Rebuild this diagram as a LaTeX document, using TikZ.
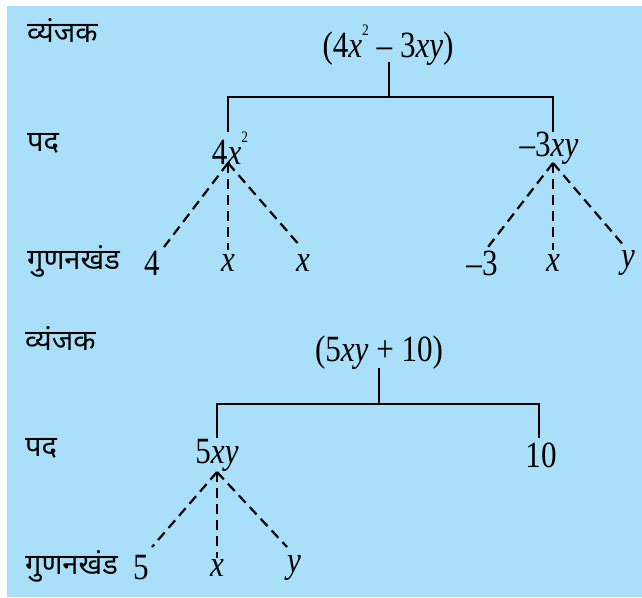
\documentclass[tikz,border=0pt]{standalone}
\usepackage{fontspec}
\setmainfont{Liberation Serif}[FakeStretch=0.84]
\newfontfamily\deva[Script=Devanagari]{Noto Sans}
\definecolor{bgblue}{HTML}{A9DFF8}
\newcommand{\sqr}{\raisebox{0.6em}{\fontsize{16}{16}\selectfont 2}}
\tikzset{
  lbl/.style={font=\fontsize{29}{32}\selectfont\deva, anchor=west, inner sep=0pt},
  term/.style={font=\fontsize{37}{40}\selectfont, inner sep=0pt},
  tree/.style={line width=2.2pt, black},
  dashline/.style={line width=2.2pt, black, dash pattern=on 10pt off 6pt}
}
\begin{document}
\begin{tikzpicture}[x=1pt,y=-1pt]
\fill[white] (0,0) rectangle (642,597);
\fill[bgblue] (7,6) rectangle (642,597);
\useasboundingbox (0,0) rectangle (642,597);

% ---------- upper tree ----------
\node[lbl] (l1) at (27,30) {व्यंजक};
\node[lbl] (l2) at (27,143) {पद};
\node[lbl] (l3) at (27,261) {गुणनखंड};

\node[term] (e1) at (388,45) {(4\textit{x}\sqr{} – 3\textit{xy})};
\node[term] (t1) at (230,148) {4\textit{x}\sqr};
\node[term] (t2) at (549,148) {–3\textit{xy}};
\node[term] (f1) at (152,263) {4};
\node[term] (f2) at (228,263) {\textit{x}};
\node[term] (f3) at (303,263) {\textit{x}};
\node[term] (f4) at (482,263) {–3};
\node[term] (f5) at (553,263) {\textit{x}};
\node[term] (f6) at (628,263) {\textit{y}};

\coordinate (e1b) at (389,62);
\coordinate (j1) at (389,97);
\coordinate (t1a) at (228,132);
\coordinate (t2a) at (553,132);
\draw[tree] (e1b) -- (j1);
\draw[tree] (t1a) |- (j1) -| (t2a);

\coordinate (p1) at (228,163);
\coordinate (p2) at (553,163);
\coordinate (f1a) at (164,247);
\coordinate (f2a) at (228,250);
\coordinate (f3a) at (301,247);
\coordinate (f4a) at (488,247);
\coordinate (f5a) at (553,250);
\coordinate (f6a) at (625,247);
\draw[dashline] (p1) -- (f1a);
\draw[dashline] (p1) -- (f2a);
\draw[dashline] (p1) -- (f3a);
\draw[dashline] (p2) -- (f4a);
\draw[dashline] (p2) -- (f5a);
\draw[dashline] (p2) -- (f6a);

% ---------- lower tree ----------
\node[lbl] (l4) at (25,338) {व्यंजक};
\node[lbl] (l5) at (25,448) {पद};
\node[lbl] (l6) at (25,566) {गुणनखंड};

\node[term] (e2) at (379,353) {(5\textit{xy} + 10)};
\node[term] (t3) at (217,455) {5\textit{xy}};
\node[term] (t4) at (541,455) {10};
\node[term] (g1) at (141,568) {5};
\node[term] (g2) at (217,568) {\textit{x}};
\node[term] (g3) at (294,568) {\textit{y}};

\coordinate (e2b) at (379,368);
\coordinate (j2) at (379,404);
\coordinate (t3a) at (217,438);
\coordinate (t4a) at (539,438);
\draw[tree] (e2b) -- (j2);
\draw[tree] (t3a) |- (j2) -| (t4a);

\coordinate (p3) at (217,472);
\coordinate (g1a) at (152,547);
\coordinate (g2a) at (217,558);
\coordinate (g3a) at (287,547);
\draw[dashline] (p3) -- (g1a);
\draw[dashline] (p3) -- (g2a);
\draw[dashline] (p3) -- (g3a);
\end{tikzpicture}
\end{document}
